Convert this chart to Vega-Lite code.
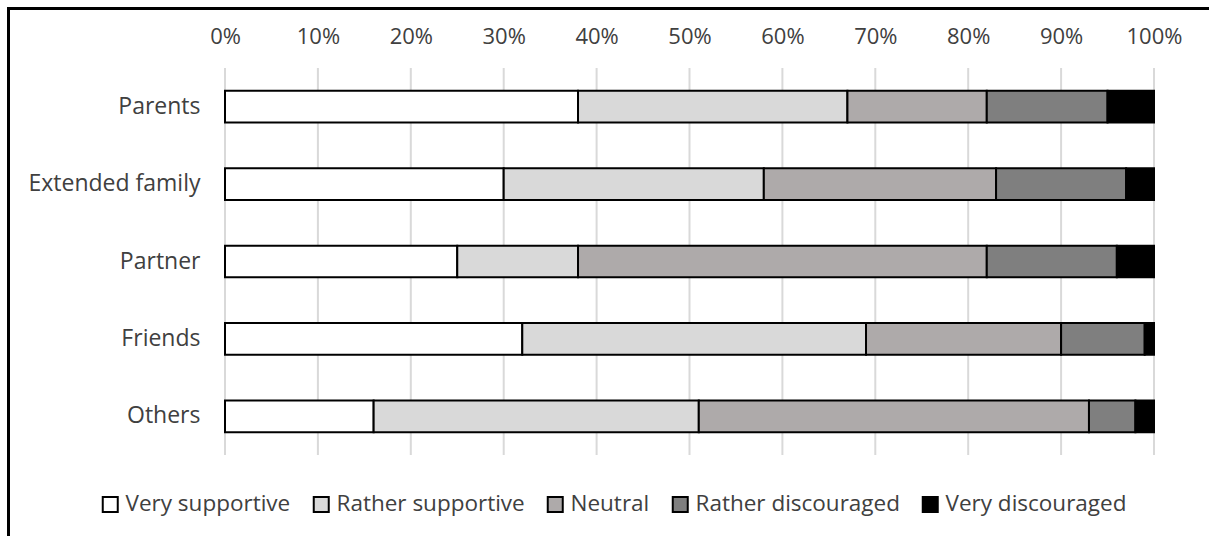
{
  "$schema": "https://vega.github.io/schema/vega-lite/v6.json",
  "width": 1201,
  "height": 528,
  "autosize": {"type": "none"},
  "padding": {"left": 8, "top": 8, "right": 0, "bottom": 0},
  "background": "white",
  "config": {
    "view": {"stroke": null},
    "font": "Open Sans"
  },
  "layer": [
    {
      "data": {"values": [{"t": 0}, {"t": 1}]},
      "mark": {"type": "point", "opacity": 0},
      "encoding": {
        "x": {
          "field": "t", "type": "quantitative",
          "scale": {"domain": [0, 1], "range": [-1.5, 1300], "nice": false, "zero": false},
          "axis": {"title": null, "orient": "top", "offset": 0, "domain": true, "domainColor": "black", "domainWidth": 3, "labels": false, "ticks": false, "grid": false}
        },
        "y": {
          "field": "t", "type": "quantitative",
          "scale": {"domain": [0, 1], "range": [-1.5, 700], "nice": false, "zero": false},
          "axis": {"title": null, "orient": "left", "offset": 0, "domain": true, "domainColor": "black", "domainWidth": 3, "labels": false, "ticks": false, "grid": false}
        }
      }
    },
    {
      "data": {"values": [{"t": 0}, {"t": 0.1}, {"t": 0.2}, {"t": 0.3}, {"t": 0.4}, {"t": 0.5}, {"t": 0.6}, {"t": 0.7}, {"t": 0.8}, {"t": 0.9}, {"t": 1}]},
      "mark": {"type": "rule", "color": "#d9d9d9", "strokeWidth": 2},
      "encoding": {
        "x": {
          "field": "t", "type": "quantitative",
          "scale": {"domain": [0, 1], "range": [217, 1146], "nice": false},
          "axis": {"title": null, "orient": "top", "offset": -35, "values": [0, 0.1, 0.2, 0.3, 0.4, 0.5, 0.6, 0.7, 0.8, 0.9, 1], "format": ".0%", "domain": false, "ticks": false, "tickSize": 0, "grid": false, "labelPadding": 0, "labelBaseline": "alphabetic", "labelFlush": false, "labelFont": "Open Sans", "labelFontSize": 22, "labelColor": "#404040"}
        },
        "y": {"datum": 0, "type": "quantitative", "scale": {"domain": [0, 1], "range": [60, 447]}, "axis": null},
        "y2": {"datum": 1}
      }
    },
    {
      "data": {"values": [
        {"source": "Parents", "level": "Very supportive", "k": 1, "value": 38},
        {"source": "Parents", "level": "Rather supportive", "k": 2, "value": 29},
        {"source": "Parents", "level": "Neutral", "k": 3, "value": 15},
        {"source": "Parents", "level": "Rather discouraged", "k": 4, "value": 13},
        {"source": "Parents", "level": "Very discouraged", "k": 5, "value": 5},
        {"source": "Extended family", "level": "Very supportive", "k": 1, "value": 30},
        {"source": "Extended family", "level": "Rather supportive", "k": 2, "value": 28},
        {"source": "Extended family", "level": "Neutral", "k": 3, "value": 25},
        {"source": "Extended family", "level": "Rather discouraged", "k": 4, "value": 14},
        {"source": "Extended family", "level": "Very discouraged", "k": 5, "value": 3},
        {"source": "Partner", "level": "Very supportive", "k": 1, "value": 25},
        {"source": "Partner", "level": "Rather supportive", "k": 2, "value": 13},
        {"source": "Partner", "level": "Neutral", "k": 3, "value": 44},
        {"source": "Partner", "level": "Rather discouraged", "k": 4, "value": 14},
        {"source": "Partner", "level": "Very discouraged", "k": 5, "value": 4},
        {"source": "Friends", "level": "Very supportive", "k": 1, "value": 32},
        {"source": "Friends", "level": "Rather supportive", "k": 2, "value": 37},
        {"source": "Friends", "level": "Neutral", "k": 3, "value": 21},
        {"source": "Friends", "level": "Rather discouraged", "k": 4, "value": 9},
        {"source": "Friends", "level": "Very discouraged", "k": 5, "value": 1},
        {"source": "Others", "level": "Very supportive", "k": 1, "value": 16},
        {"source": "Others", "level": "Rather supportive", "k": 2, "value": 35},
        {"source": "Others", "level": "Neutral", "k": 3, "value": 42},
        {"source": "Others", "level": "Rather discouraged", "k": 4, "value": 5},
        {"source": "Others", "level": "Very discouraged", "k": 5, "value": 2}
      ]},
      "mark": {"type": "bar", "stroke": "black", "strokeWidth": 2},
      "encoding": {
        "y": {
          "field": "source", "type": "nominal",
          "sort": ["Parents", "Extended family", "Partner", "Friends", "Others"],
          "scale": {"range": [60, 447], "paddingInner": 0.59, "paddingOuter": 0.295},
          "axis": {"title": null, "orient": "left", "offset": -217, "domain": false, "ticks": false, "tickSize": 0, "grid": false, "labelPadding": 25, "labelFont": "Open Sans", "labelFontSize": 23, "labelColor": "#404040", "labelLimit": 400}
        },
        "x": {
          "field": "value", "type": "quantitative", "stack": "normalize",
          "scale": {"domain": [0, 1], "range": [217, 1146], "nice": false},
          "axis": null
        },
        "color": {
          "field": "level", "type": "nominal",
          "sort": ["Very supportive", "Rather supportive", "Neutral", "Rather discouraged", "Very discouraged"],
          "scale": {"domain": ["Very supportive", "Rather supportive", "Neutral", "Rather discouraged", "Very discouraged"], "range": ["#ffffff", "#d9d9d9", "#aeaaaa", "#7f7f7f", "#000000"]},
          "legend": {"orient": "none", "legendX": 91, "legendY": 485, "direction": "horizontal", "title": null, "symbolType": "square", "symbolSize": 225, "symbolStrokeColor": "black", "symbolStrokeWidth": 2, "symbolOpacity": 1, "labelFont": "Open Sans", "labelFontSize": 22.5, "labelColor": "#404040", "labelOffset": 4, "columnPadding": 18, "padding": 0, "labelLimit": 400}
        },
        "order": {"field": "k", "type": "quantitative"}
      }
    }
  ],
  "resolve": {"scale": {"x": "independent", "y": "independent"}}
}
